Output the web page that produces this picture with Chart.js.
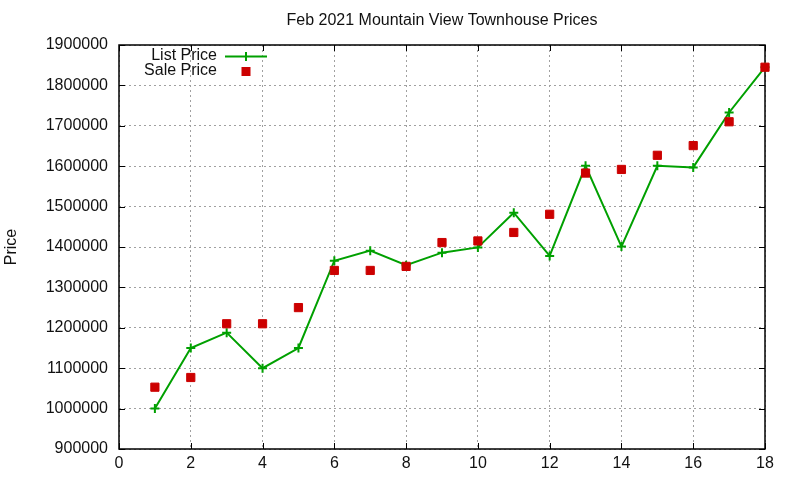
<!DOCTYPE html>
<html>
<head>
<meta charset="utf-8">
<script src="https://cdn.jsdelivr.net/npm/chart.js@4"></script>
<style>
  html, body { margin: 0; padding: 0; background: #fff; }
  #wrap { width: 800px; height: 480px; }
</style>
</head>
<body>
<div id="wrap"><canvas id="chart"></canvas></div>
<script>
// --- données ---
const days = [1, 2, 3, 4, 5, 6, 7, 8, 9, 10, 11, 12, 13, 14, 15, 16, 17, 18];
const listPrice = [1000000, 1150000, 1188000, 1100000, 1150000, 1366000, 1391000, 1355000, 1386000,
                   1399000, 1485000, 1378000, 1601000, 1401000, 1601000, 1597000, 1733000, 1845000];
const salePrice = [1053000, 1077000, 1210000, 1210000, 1250000, 1342000, 1342000, 1352000, 1411000,
                   1415000, 1436000, 1481000, 1583000, 1592000, 1627000, 1651000, 1710000, 1845000];
const xTicks = [0, 2, 4, 6, 8, 10, 12, 14, 16, 18];
const yTicks = [900000, 1000000, 1100000, 1200000, 1300000, 1400000, 1500000, 1600000, 1700000, 1800000, 1900000];

const GREEN = '#00a000';
const RED = '#cc0000';
const FONT = '"Liberation Sans", Arial, sans-serif';

// bordure, graduations intérieures, titre, légende
const gnuplotDecor = {
    id: 'gnuplotDecor',
    beforeDatasetsDraw(chart) {
        const ctx = chart.ctx;
        const a = chart.chartArea;
        const xs = chart.scales.x, ys = chart.scales.y;
        ctx.save();
        ctx.strokeStyle = '#000';
        ctx.lineWidth = 1;
        ctx.beginPath();
        xTicks.forEach(v => {
            const px = Math.round(xs.getPixelForValue(v)) + 0.5;
            ctx.moveTo(px, a.bottom); ctx.lineTo(px, a.bottom - 6);
            ctx.moveTo(px, a.top); ctx.lineTo(px, a.top + 6);
        });
        yTicks.forEach(v => {
            const py = Math.round(ys.getPixelForValue(v)) + 0.5;
            ctx.moveTo(a.left, py); ctx.lineTo(a.left + 6, py);
            ctx.moveTo(a.right, py); ctx.lineTo(a.right - 6, py);
        });
        ctx.stroke();
        ctx.lineWidth = 1.5;
        ctx.strokeRect(a.left, a.top, a.right - a.left, a.bottom - a.top);
        ctx.restore();
    },
    afterDraw(chart) {
        const ctx = chart.ctx;
        const a = chart.chartArea;
        ctx.save();
        // titre
        ctx.fillStyle = '#111';
        ctx.font = '16px ' + FONT;
        ctx.textAlign = 'center';
        ctx.textBaseline = 'middle';
        ctx.fillText('Feb 2021 Mountain View Townhouse Prices', (a.left + a.right) / 2, 21);

        // titre de l'axe Y
        ctx.save();
        ctx.translate(12, 247);
        ctx.rotate(-Math.PI / 2);
        ctx.fillText('Price', 0, 0);
        ctx.restore();

        // légende
        ctx.textAlign = 'right';
        ctx.fillText('List Price', 217, 56);
        ctx.fillText('Sale Price', 217, 71);
        ctx.strokeStyle = GREEN;
        ctx.lineWidth = 2;
        ctx.beginPath();
        ctx.moveTo(225, 56.5); ctx.lineTo(267, 56.5);
        ctx.moveTo(246, 52); ctx.lineTo(246, 61);
        ctx.stroke();
        ctx.fillStyle = RED;
        ctx.fillRect(241.5, 67, 9, 9);
        ctx.restore();
    }
};

new Chart(document.getElementById('chart'), {
    type: 'scatter',
    data: {
        datasets: [
            {
                label: 'List Price',
                data: days.map((d, i) => ({ x: d, y: listPrice[i] })),
                showLine: true,
                borderColor: GREEN,
                backgroundColor: GREEN,
                borderWidth: 2,
                pointStyle: 'cross',
                pointRadius: 4.5,
                pointBorderWidth: 2,
                clip: false,
                order: 2
            },
            {
                label: 'Sale Price',
                data: days.map((d, i) => ({ x: d, y: salePrice[i] })),
                showLine: false,
                borderColor: RED,
                backgroundColor: RED,
                pointStyle: 'rect',
                pointRadius: 5.8,
                pointBorderWidth: 1,
                clip: false,
                order: 1
            }
        ]
    },
    options: {
        responsive: true,
        maintainAspectRatio: false,
        animation: false,
        layout: { padding: { top: 45, right: 35, left: 0, bottom: 0 } },
        plugins: {
            legend: { display: false },
            title: { display: false },
            tooltip: { enabled: false }
        },
        scales: {
            x: {
                type: 'linear',
                min: 0, max: 18,
                afterBuildTicks: s => { s.ticks = xTicks.map(v => ({ value: v })); },
                afterFit: s => { s.height = 31; },
                grid: { color: '#a0a0a0', drawTicks: false, lineWidth: 1 },
                border: { display: false, dash: [2, 3] },
                ticks: { color: '#111', font: { family: FONT, size: 16 }, padding: 5, maxRotation: 0 }
            },
            y: {
                type: 'linear',
                min: 900000, max: 1900000,
                afterBuildTicks: s => { s.ticks = yTicks.map(v => ({ value: v })); },
                afterFit: s => { s.width = 119; },
                grid: { color: '#a0a0a0', drawTicks: false, lineWidth: 1 },
                border: { display: false, dash: [2, 3] },
                ticks: { color: '#111', font: { family: FONT, size: 16 }, padding: 11, callback: v => String(v) }
            }
        }
    },
    plugins: [gnuplotDecor]
});
</script>
</body>
</html>
